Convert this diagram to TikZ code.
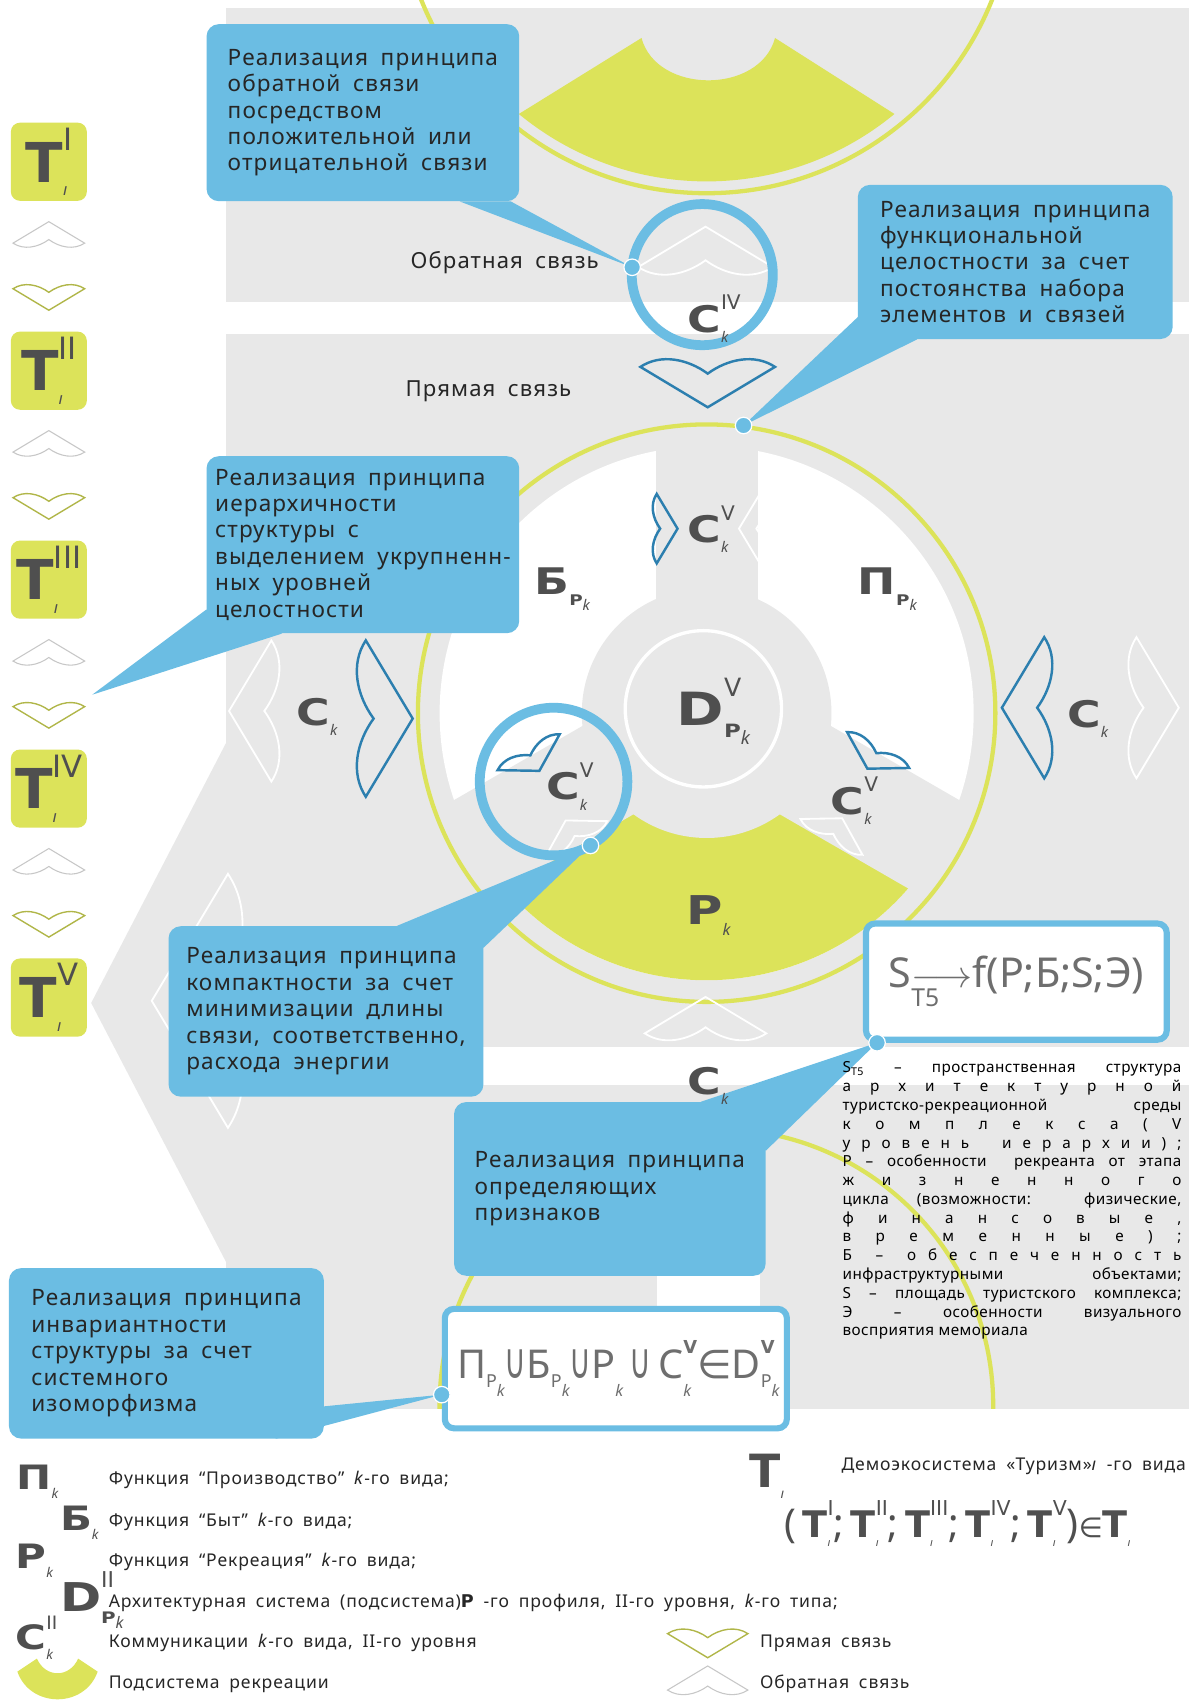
\documentclass[tikz,border=0pt]{standalone}
\usepackage{fontspec}
\usepackage{graphicx}
\setmainfont{Noto Sans}
\newfontfamily\cfont[LetterSpace=5,WordSpace=1.8]{Noto Sans}
\newfontfamily\dfont[LetterSpace=3]{Noto Sans}
\newfontfamily\blkfont{DejaVu Sans}
\newfontfamily\opfont{DejaVu Sans}
\usetikzlibrary{positioning,calc}

\definecolor{bggray}{HTML}{E8E8E8}
\definecolor{ygreen}{HTML}{DCE35A}
\definecolor{cblue}{HTML}{6BBDE3}
\definecolor{dblue}{HTML}{2C7FAF}
\definecolor{lblgray}{HTML}{4F4F4F}
\definecolor{fmgray}{HTML}{6E6E6E}

% blocky symbol with superscript and subscript
\newcommand{\sym}[4][24]{{\fontsize{#1}{#1}\selectfont
  {\blkfont\bfseries\scalebox{1.25}[1]{#2}}%
  \rlap{\raisebox{0.62em}{\scalebox{0.55}{\blkfont #3}}}%
  \raisebox{-0.28em}{\scalebox{0.4}{\itshape #4}}}}
\newcommand{\tsym}[2][36]{{\fontsize{#1}{#1}\selectfont
  {\blkfont\bfseries T}%
  \rlap{\raisebox{-0.25em}{\scalebox{0.3}{\itshape ı}}}%
  \raisebox{0.58em}{\scalebox{0.56}{\blkfont #2}}}}
\newcommand{\pk}{{\upshape\blkfont\bfseries\scalebox{1.25}[1]{P}}\raisebox{-0.35em}{\itshape k}}
% thin formula subscripts
\newcommand{\fs}[2]{\raisebox{-0.22em}{\scalebox{0.45}{#1}}\raisebox{-0.45em}{\scalebox{0.4}{\itshape #2}}}
\newcommand{\fv}[1]{\rlap{#1}\raisebox{0.62em}{\scalebox{0.45}{\blkfont\bfseries V}}}
\newcommand{\un}{{\opfont\scalebox{0.75}[1.25]{∪}}}
\newcommand{\jl}[1]{\makebox[7.8cm][s]{#1}}

\pgfdeclarelayer{back}
\pgfdeclarelayer{mid}
\pgfsetlayers{back,mid,main}

\tikzset{
  chev/.pic={\path[pic actions] (-1,0) .. controls (-0.7,0.2) and (-0.3,0.12) .. (0,-0.1)
      .. controls (0.3,0.12) and (0.7,0.2) .. (1,0) -- (0,-0.6) -- cycle;}
}

\begin{document}
\begin{tikzpicture}[x=0.025cm, y=-0.025cm,
    callout/.style={fill=cblue, rounded corners=8pt, anchor=north west, align=left, inner sep=0pt,
      text=black!85, font=\cfont\fontsize{14.8}{17.3}\selectfont},
    tail/.style={fill=cblue},
    dot/.style={circle, fill=cblue, draw=white, line width=0.8pt, minimum size=0.38cm, inner sep=0pt},
    fbox/.style={draw=cblue, line width=4pt, fill=white, rounded corners=6pt, anchor=north west,
      inner sep=0pt, text=fmgray},
    tbox/.style={fill=ygreen, rounded corners=6pt, minimum width=1.75cm, minimum height=1.8cm,
      inner sep=0pt, text=lblgray},
    lbl/.style={text=lblgray, inner sep=0pt, anchor=base west},
    lgd/.style={anchor=base west, inner sep=0pt, text=black!85, font=\cfont\fontsize{11.5}{13}\selectfont},
    txt/.style={text=black!85, font=\cfont\fontsize{14.5}{17}\selectfont},
    fbw/.style={draw=white, line width=1.2pt},
    drb/.style={draw=dblue, line width=1.6pt},
    fbl/.style={draw=black!22, fill=white, line width=0.7pt},
    drl/.style={draw=ygreen!80!black, fill=white, line width=0.9pt},
    ring/.style={draw=cblue, line width=6.4pt},
    yring/.style={draw=ygreen, line width=2.8pt}
  ]
\useasboundingbox (0,0) rectangle (1098,1568);

\begin{pgfonlayer}{back}
% grey fields
\fill[white] (0,0) rectangle (1098,1568);
\fill[bggray] (208,7) rectangle (1095,278);
\fill[bggray] (208,308) rectangle (1095,965);
\fill[bggray] (208,1000) rectangle (1095,1298);
\fill[bggray] (209,683) -- (84,924) -- (209,1164) -- cycle;
\pic[fbw, scale=117, rotate=90] at (210,922) {chev};

% upper system (cut)
\begin{scope}
  \clip (208,0) rectangle (1095,278);
  \fill[ygreen] (591,35) -- (478,105) arc[start angle=129.5, end angle=50.5, radius=272]
    -- (714,35) .. controls (700,87) and (605,87) .. (591,35) -- cycle;
  \draw[yring] (651,-105) circle (283);
\end{scope}

% lower system (cut)
\begin{scope}
  \clip (208,1000) rectangle (1095,1298);
  \fill[white] (605,1175) rectangle (700,1298);
  \draw[yring] (660,1295) circle (255);
\end{scope}
\fill[dblue] (704,1038) -- (717,1045) -- (704,1052) -- cycle;

% main system
\fill[white] (651,657) circle (246);
\fill[ygreen] (651,657) -- +(30:246) arc[start angle=30, end angle=150, radius=246] -- cycle;
\foreach \a in {90,210,330}
  \fill[bggray, rotate around={\a:(651,657)}] (651,610) rectangle (921,704);
\fill[bggray] (651,657) circle (115);
\draw[white, line width=2.2pt] (648,653) circle (72);
\draw[yring] (651,657) circle (266);

% links
\pic[fbw, scale=62] at (650,246) {chev};
\pic[drb, scale=62, rotate=180] at (652,338) {chev};
\pic[drb, scale=32, rotate=-90] at (605,487) {chev};
\pic[fbw, scale=32, rotate=90] at (700,487) {chev};
\pic[drb, scale=33, rotate=210] at (487,693) {chev};
\pic[fbw, scale=33, rotate=30] at (531,773) {chev};
\pic[drb, scale=33, rotate=150] at (809,691) {chev};
\pic[fbw, scale=33, rotate=-30] at (766,771) {chev};
\pic[fbw, scale=65, rotate=90] at (250,655) {chev};
\pic[drb, scale=72, rotate=-90] at (337,662) {chev};
\pic[drb, scale=65, rotate=90] at (962,652) {chev};
\pic[fbw, scale=65, rotate=-90] at (1047,652) {chev};
\pic[fbw, scale=56] at (650,952) {chev};

% lenses
\draw[ring] (647,253) circle (65);
\draw[ring] (510,720) circle (68);

% labels
\node[lbl] (civ) at (633,306) {\sym{C}{IV}{k}};
\node[lbl] (cvt) at (633,500) {\sym{C}{V}{k}};
\node[lbl] (bp) at (492,548) {\sym{Б}{}{\pk}};
\node[lbl] (pp) at (790,548) {\sym{П}{}{\pk}};
\node[lbl] (dv) at (623,668) {\sym[30]{D}{V}{\pk}};
\node[lbl] (cvl) at (503,737) {\sym{C}{V}{k}};
\node[lbl] (cvr) at (765,750) {\sym{C}{V}{k}};
\node[lbl] (rk) at (632,852) {\sym[26]{P}{}{k}};
\node[lbl] (ckl) at (273,668) {\sym{C}{}{k}};
\node[lbl] (ckr) at (983,670) {\sym{C}{}{k}};
\node[txt] (obr) at (465,242) {Обратная связь};
\node[txt] (prm) at (450,360) {Прямая связь};

% demo-ecosystems
\foreach \r [count=\n] in {I,II,III,IV,V}
  \node[tbox] (t\n) at (45,{149+192.5*(\n-1)}) {\tsym{\r}};
\foreach \n in {1,...,4} {
  \pic[fbl, scale=33] at (45,{224+192.5*(\n-1)}) {chev};
  \pic[drl, scale=33, rotate=180] at (45,{266+192.5*(\n-1)}) {chev};
}
\end{pgfonlayer}

% principles
\node[callout, minimum width=7.2cm, minimum height=4.075cm] (cbfb) at (190,22)
  {Реализация принципа\\обратной связи\\посредством\\положительной или\\отрицательной связи};
\node[callout, minimum width=7.25cm, minimum height=3.55cm] (cbfunc) at (790,170)
  {Реализация принципа\\функциональной\\целостности за счет\\постоянства набора\\элементов и связей};
\node[callout, minimum width=7.2cm, minimum height=4.075cm] (cbhier) at (190,420)
  {Реализация принципа\\иерархичности\\структуры с\\выделением укрупненн-\\ных уровней\\целостности};
\node[callout, minimum width=7.25cm, minimum height=3.925cm] (cbcomp) at (155,853)
  {Реализация принципа\\компактности за счет\\минимизации длины\\связи, соответственно,\\расхода энергии};
\node[callout, minimum width=7.175cm, minimum height=4cm] (cbdef) at (418,1015)
  {Реализация принципа\\определяющих\\признаков};
\node[callout, minimum width=7.25cm, minimum height=3.925cm] (cbinv) at (8,1168)
  {Реализация принципа\\инвариантности\\структуры за счет\\системного\\изоморфизма};
\node[lbl] (ckb) at (633,1008) {\sym{C}{}{k}};

% formulas
\node[fbox, minimum width=6.925cm, minimum height=2.675cm, font=\fontsize{27}{27}\selectfont] (sbox) at (795,848)
  {S\rlap{\raisebox{-0.45em}{\scalebox{0.6}{T5}}}$\longrightarrow$f(P;Б;S;Э)};
\node[fbox, minimum width=7.875cm, minimum height=2.75cm, font=\fontsize{26}{26}\selectfont] (ubox) at (407,1203)
  {П\fs{P}{k}\un Б\fs{P}{k}\un P\fs{}{k}\,\un\,C\fv{\fs{}{k}}{\opfont∈}D\fv{\fs{P}{k}}};

% pointers
\node[dot] (dfb) at ($(647,253)+(186:65)$) {};
\node[dot] (dfunc) at (685,392) {};
\node[dot] (dcomp) at ($(510,720)+(60:68)$) {};
\node[dot] (ddef) at ($(sbox.south west)+(13,0)$) {};
\node[dot] (dinv) at ($(ubox.west)+(0,24)$) {};
\coordinate (thier) at (85,640);
\begin{pgfonlayer}{mid}
\fill[tail] ($(cbfb.south east)+(-55,0)$) -- (dfb.center) -- ($(cbfb.south east)+(-8,0)$) -- cycle;
\fill[tail] ($(cbfunc.south west)+(5,-25)$) -- (dfunc.center) -- ($(cbfunc.south west)+(55,0)$) -- cycle;
\fill[tail] ($(cbhier.south west)+(0,-22)$) -- (thier) -- ($(cbhier.south west)+(70,0)$) -- cycle;
\fill[tail] ($(cbcomp.north east)+(-80,0)$) -- (dcomp.center) -- ($(cbcomp.north east)+(0,20)$) -- cycle;
\fill[tail] ($(cbdef.north east)+(-60,0)$) -- (ddef.center) -- ($(cbdef.north east)+(0,45)$) -- cycle;
\fill[tail] ($(cbinv.south east)+(-45,0)$) -- (dinv.center) -- ($(cbinv.south east)+(0,-30)$) -- cycle;
\end{pgfonlayer}

% notation
\node[anchor=north west, inner sep=0pt, align=left, text=black,
  font=\dfont\fontsize{10}{12.3}\selectfont] (desc) at (776,978)
  {\jl{S\textsubscript{T5} – пространственная структура}\\
   \jl{а р х и т е к т у р н о й}\\
   \jl{туристско-рекреационной среды}\\
   \jl{к о м п л е к с а ( V}\\
   \jl{у р о в е н ь \ \ и е р а р х и и ) ;}\\
   \jl{Р – особенности \ рекреанта от этапа}\\
   \jl{ж и з н е н н о г о}\\
   \jl{цикла (возможности: физические,}\\
   \jl{ф и н а н с о в ы е ,}\\
   \jl{в р е м е н н ы е ) ;}\\
   \jl{Б \ – \ о б е с п е ч е н н о с т ь}\\
   \jl{инфраструктурными объектами;}\\
   \jl{S – площадь туристского комплекса;}\\
   \jl{Э \ – \ особенности \ визуального}\\
   восприятия мемориала};

% legend
\node[lbl] (lp) at (15,1372) {\sym[22]{П}{}{k}};
\node[lbl] (lb) at (55,1410) {\sym[22]{Б}{}{k}};
\node[lbl] (lr) at (14,1445) {\sym[22]{P}{}{k}};
\node[lbl] (ld) at (55,1485) {\sym[26]{D}{II}{\pk}};
\node[lbl] (lc) at (14,1520) {\sym[22]{C}{II}{k}};
\fill[ygreen] (16,1540) .. controls (28,1574) and (78,1574) .. (90,1540) -- (72,1528)
  .. controls (64,1546) and (42,1546) .. (34,1528) -- cycle;
\node[lgd] at (100,1368) {Функция “Производство” \textit{k}-го вида;};
\node[lgd] at (100,1406) {Функция “Быт” \textit{k}-го вида;};
\node[lgd] at (100,1443) {Функция “Рекреация” \textit{k}-го вида;};
\node[lgd] at (100,1481) {Архитектурная система (подсистема){\blkfont\bfseries P} -го профиля, II-го уровня, \textit{k}-го типа;};
\node[lgd] at (100,1518) {Коммуникации \textit{k}-го вида, II-го уровня};
\node[lgd] at (100,1556) {Подсистема рекреации};

\node[lbl] (lt) at (690,1370) {\tsym[30]{}};
\node[lgd] at (775,1355) {Демоэкосистема «Туризм»\textit{ı} -го вида};
\node[lbl] (ltup) at (722,1416) {\fontsize{26}{26}\selectfont (\,\tsym[24]{I};\,\tsym[24]{II};\,\tsym[24]{III};\,\tsym[24]{IV};\,\tsym[24]{V}){\opfont\fontsize{18}{18}\selectfont∈}\tsym[24]{}};
\pic[drl, scale=37, rotate=180] at (652,1505) {chev};
\pic[fbl, scale=37] at (652,1557) {chev};
\node[lgd] at (700,1518) {Прямая связь};
\node[lgd] at (700,1556) {Обратная связь};
\end{tikzpicture}
\end{document}
